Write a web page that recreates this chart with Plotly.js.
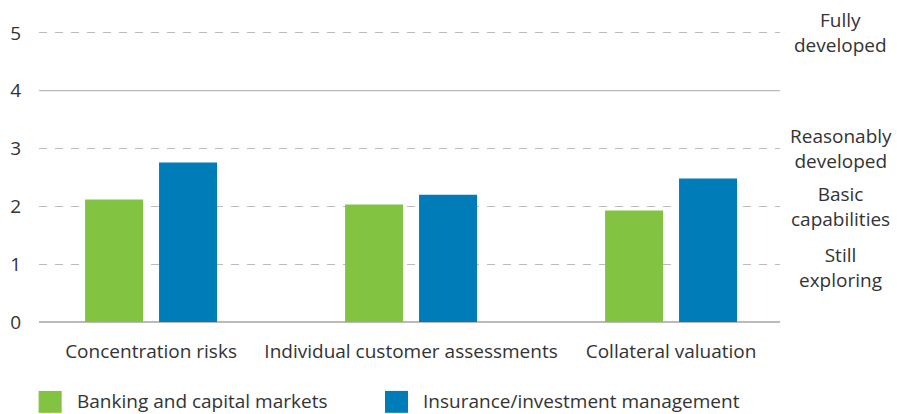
<!DOCTYPE html>
<html>
<head>
<meta charset="utf-8">
<script src="https://cdn.plot.ly/plotly-3.0.1.min.js"></script>
<style>html,body{margin:0;padding:0;background:#fff;}#chart{width:897px;height:414px;}</style>
</head>
<body>
<div id="chart"></div>
<script>
const categories = ["Concentration risks", "Individual customer assessments", "Collateral valuation"];
const banking = [2.12, 2.03, 1.93];
const insurance = [2.76, 2.20, 2.48];
const seriesNames = ["Banking and capital markets", "Insurance/investment management"];
const levelValues = [5, 3, 2, 1];
const levelLabels = ["Fully<br>developed", "Reasonably<br>developed", "Basic<br>capabilities", "Still<br>exploring"];
const yTicks = [0, 1, 2, 3, 4, 5];

const GREEN = "#82c341";
const BLUE = "#007cb8";
const FONT = "Open Sans, sans-serif";
const TXT = "#333333";
const FS = 19;

const data = [
  {type: "bar", x: categories, y: banking, name: seriesNames[0], marker: {color: GREEN}, hoverinfo: "y"},
  {type: "bar", x: categories, y: insurance, name: seriesNames[1], marker: {color: BLUE}, hoverinfo: "y"}
];

const extraShift = [0, 0, 0, -3];
const annotations = levelValues.map((v, i) => ({
  xref: "paper", yref: "y", x: 1.0823, y: v, text: levelLabels[i], showarrow: false,
  xanchor: "center", yanchor: "middle", align: "center", yshift: extraShift[i],
  font: {family: FONT, size: FS, color: TXT}
}));

annotations.push(
  {xref: "paper", yref: "paper", x: 0.049, y: -0.27, text: seriesNames[0], showarrow: false,
   xanchor: "left", yanchor: "middle", font: {family: FONT, size: FS, color: TXT}},
  {xref: "paper", yref: "paper", x: 0.516, y: -0.27, text: seriesNames[1], showarrow: false,
   xanchor: "left", yanchor: "middle", font: {family: FONT, size: FS, color: TXT}}
);

const shapes = [
  {type: "line", xref: "paper", yref: "y", x0: 0, x1: 1, y0: 4, y1: 4, line: {color: "#bbbbbb", width: 1.2}, layer: "below"},
  {type: "rect", xref: "paper", yref: "paper", x0: -0.0005, x1: 0.0306, y0: -0.236, y1: -0.311, fillcolor: GREEN, line: {width: 0}},
  {type: "rect", xref: "paper", yref: "paper", x0: 0.4669, x1: 0.498, y0: -0.236, y1: -0.311, fillcolor: BLUE, line: {width: 0}}
];

const layout = {
  width: 897, height: 414,
  margin: {l: 39, r: 117, t: 30, b: 92},
  paper_bgcolor: "#ffffff", plot_bgcolor: "#ffffff",
  showlegend: false,
  barmode: "group",
  bargap: 0.431,
  bargroupgap: 0.216,
  font: {family: FONT, size: FS, color: TXT},
  xaxis: {
    type: "category", range: [-0.431, 2.419], showgrid: false, zeroline: false,
    showline: false, ticks: "", ticklabelstandoff: 16,
    tickfont: {family: FONT, size: FS, color: TXT}, fixedrange: true
  },
  yaxis: {
    range: [0, 5.05], tickvals: yTicks, ticktext: yTicks.map(String),
    showgrid: true, gridcolor: "#bbbbbb", gridwidth: 1.2, griddash: "8px,8px",
    zeroline: true, zerolinecolor: "#bbbbbb", zerolinewidth: 1.5,
    showline: false, ticks: "", ticklabelstandoff: 17,
    tickfont: {family: FONT, size: FS, color: TXT}, fixedrange: true
  },
  annotations: annotations,
  shapes: shapes
};

Plotly.newPlot("chart", data, layout, {displayModeBar: false, staticPlot: true});
</script>
</body>
</html>
